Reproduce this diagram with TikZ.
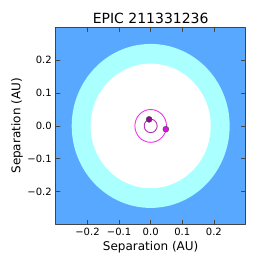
\documentclass[tikz,border=0pt]{standalone}
\usepackage{fontspec}
\setmainfont{DejaVu Sans}
\usepackage{xcolor}
\usepackage{tikz}
\definecolor{zoneblue}{HTML}{58A8FF}
\definecolor{zonecyan}{HTML}{AAFFFF}
\definecolor{orbitouter}{HTML}{EE33EE}
\definecolor{orbitinner}{HTML}{B030B0}
\definecolor{planetouter}{HTML}{DD11DD}
\definecolor{planetinner}{HTML}{990099}
\definecolor{axisline}{HTML}{444444}
\tikzset{
every picture/.style={line cap=round,line join=round},
axis frame/.style={draw=axisline, line width=0.9pt},
tick mark/.style={draw=axisline, line width=0.7pt},
tick label/.style={font=\fontsize{10}{12}\selectfont, inner sep=0pt, text=black},
axis label/.style={font=\fontsize{12}{14}\selectfont, inner sep=0pt, text=black},
plot title/.style={font=\fontsize{14}{16}\selectfont, inner sep=0pt, text=black},
orbit line/.style={line width=0.9pt},
planet dot/.style={draw=black!70, line width=0.4pt}
}
\begin{document}
\begin{tikzpicture}[x=316pt,y=328pt]
\useasboundingbox (-0.477,-0.427) rectangle (0.365,0.384);
% zones
\fill[zoneblue] (-0.3,-0.3) rectangle (0.3,0.3);
\fill[zonecyan] (0,0) ellipse [x radius=0.25, y radius=0.25];
\fill[white] (0,0) ellipse [x radius=0.19, y radius=0.19];
% orbits
\draw[orbit line,draw=orbitouter] (0,0) ellipse [x radius=0.05, y radius=0.05];
\draw[orbit line,draw=orbitinner] (0,0) ellipse [x radius=0.0205, y radius=0.0205];
\fill[planet dot,fill=planetinner] (-0.005,0.02) ellipse [x radius=0.0095, y radius=0.0092];
\fill[planet dot,fill=planetouter] (0.048,-0.01) ellipse [x radius=0.0095, y radius=0.0092];
% ticks
\foreach \v/\t in {-0.2/−0.2,-0.1/−0.1,0/0.0,0.1/0.1,0.2/0.2}{
  \draw[tick mark] (\v,-0.3) -- ++(0,4pt);
  \draw[tick mark] (\v,0.3) -- ++(0,-4pt);
  \draw[tick mark] (-0.3,\v) -- ++(4pt,0);
  \draw[tick mark] (0.3,\v) -- ++(-4pt,0);
  \node[tick label,anchor=north] at ([yshift=-4pt]\v,-0.3) {\t};
  \node[tick label,anchor=east] at ([xshift=-4pt]-0.3,\v) {\t};
}
\draw[axis frame] (-0.3,-0.3) rectangle (0.3,0.3);
% labels
\node[axis label] (xlab) at (0,-0.37) {Separation (AU)};
\node[axis label,rotate=90] (ylab) at (-0.423,0) {Separation (AU)};
\node[plot title] (title) at (0,0.328) {EPIC 211331236};
\end{tikzpicture}
\end{document}
